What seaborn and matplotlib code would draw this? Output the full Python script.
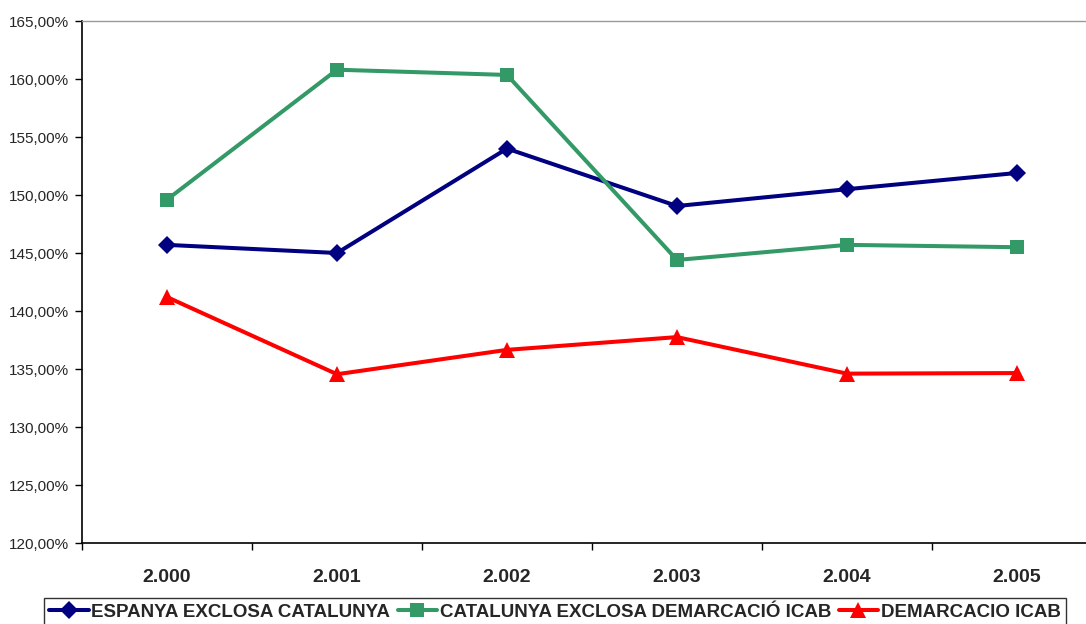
import matplotlib
matplotlib.use("Agg")
import matplotlib.pyplot as plt
import seaborn as sns
import pandas as pd
import numpy as np
from matplotlib.ticker import FuncFormatter, FixedLocator
from matplotlib.lines import Line2D

years = ["2.000", "2.001", "2.002", "2.003", "2.004", "2.005"]
espanya = [145.7, 145.0, 154.0, 149.05, 150.5, 151.9]
catalunya = [149.6, 160.8, 160.35, 144.4, 145.7, 145.5]
demarcacio = [141.2, 134.55, 136.65, 137.75, 134.6, 134.65]
series_names = ["ESPANYA EXCLOSA CATALUNYA", "CATALUNYA EXCLOSA DEMARCACIÓ ICAB", "DEMARCACIO ICAB"]
colors = ["#000080", "#339966", "#FF0000"]
markers = ["D", "s", "^"]
msizes = [9, 10.5, 11]

sns.set_theme(style="white")
plt.rcParams['font.family'] = ['Liberation Sans', 'DejaVu Sans']

rows = []
for name, vals in zip(series_names, [espanya, catalunya, demarcacio]):
    for i, (y, v) in enumerate(zip(years, vals)):
        rows.append({"idx": i, "year": y, "value": v, "serie": name})
df = pd.DataFrame(rows)

fig = plt.figure(figsize=(10.86, 6.24), dpi=100)
ax = fig.add_axes([82/1086, 81/624, (1086-82)/1086, 522/624])

sns.lineplot(data=df, x="idx", y="value", hue="serie", style="serie",
             hue_order=series_names, style_order=series_names,
             palette=colors, markers=dict(zip(series_names, markers)),
             dashes=False, linewidth=2.9, markersize=10, markeredgewidth=0,
             ax=ax, legend=False)
for ln, ms in zip(ax.lines, msizes):
    ln.set_markersize(ms)

ax.set_ylim(120, 165)
ax.set_xlim(-0.5, 5.5 - 16/170)
ax.set_yticks(np.arange(120, 166, 5))
ax.yaxis.set_major_formatter(FuncFormatter(lambda v, p: f"{v:.2f}".replace(".", ",") + "%"))
ax.set_xticks(range(6))
ax.set_xticklabels(years, fontweight="bold", fontsize=14)
ax.xaxis.set_minor_locator(FixedLocator(np.arange(-0.5, 6, 1)))
ax.tick_params(axis="x", which="major", length=0, pad=19)
ax.tick_params(axis="x", which="minor", length=5, width=1, color="black", direction="out", bottom=True)
ax.tick_params(axis="y", length=5, width=1, color="black", direction="out", left=True, labelsize=11, pad=4)
ax.set_xlabel("")
ax.set_ylabel("")

for s in ["left", "bottom"]:
    ax.spines[s].set_color("black")
    ax.spines[s].set_linewidth(1.2)
ax.spines["top"].set_color("#999999")
ax.spines["top"].set_linewidth(1)
ax.spines["right"].set_visible(False)

handles = [Line2D([0], [0], color=c, marker=m, linewidth=2.9, markersize=ms, markeredgewidth=0)
           for c, m, ms in zip(colors, markers, msizes)]
leg = fig.legend(handles, series_names, loc="upper center", bbox_to_anchor=(555/1086, 1 - 598/624),
                 ncol=3, frameon=True, fancybox=False, prop={"weight": "bold", "size": 13.5},
                 handlelength=2.1, handletextpad=0.15, columnspacing=0.4, borderpad=0.3,
                 borderaxespad=0)
leg.get_frame().set_edgecolor("black")
leg.get_frame().set_linewidth(1)

fig.savefig("out.png", dpi=100)
